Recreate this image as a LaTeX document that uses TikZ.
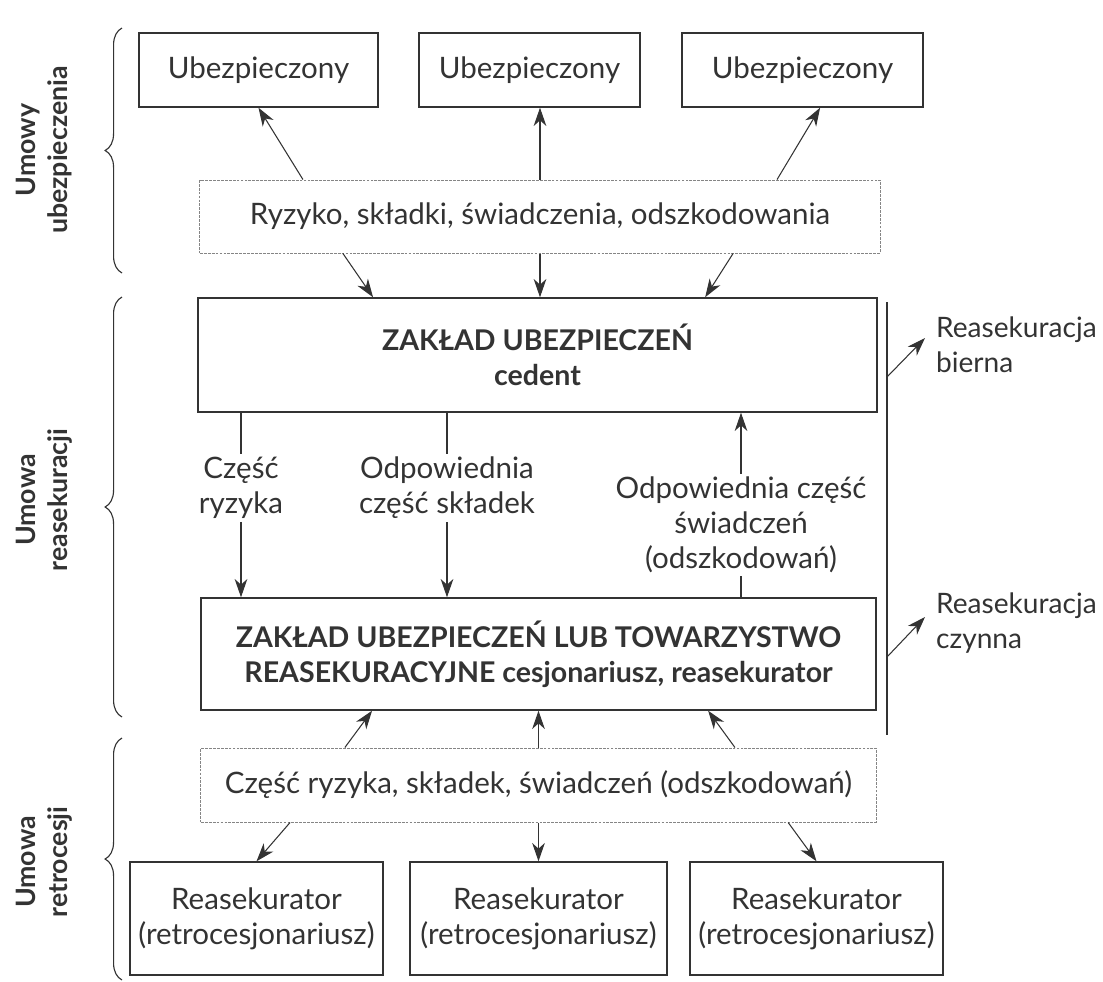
\documentclass[tikz,border=0pt]{standalone}
\usepackage{fontspec}
\setmainfont{Lato}
\usetikzlibrary{arrows.meta,positioning,decorations.pathreplacing}
\definecolor{ink}{HTML}{333333}

\begin{document}
\begin{tikzpicture}[x=0.025cm,y=-0.025cm,text=ink,
    font=\fontsize{21}{25}\selectfont,
    box/.style={draw=ink,line width=1pt,align=center,inner sep=0pt},
    flow/.style={draw=ink!60,dash pattern=on 2pt off 0.8pt,line width=0.7pt,align=center,inner sep=0pt},
    arr/.style={-{Stealth[length=13pt,width=9pt,inset=4pt]},draw=ink,line width=0.75pt},
    lbl/.style={align=center,inner sep=2pt},
    side/.style={align=center,rotate=90,font=\fontsize{19}{23}\selectfont\bfseries},
    brace/.style={decorate,decoration={brace,amplitude=12pt},draw=ink,line width=0.8pt}]
    \useasboundingbox (0,0) rectangle (1103,981);
    % boxes
    \node[box,minimum width=5.975cm,minimum height=1.85cm](u_1) at (258.5,70){Ubezpieczony};
    \node[box,minimum width=5.525cm,minimum height=1.85cm](u_2) at (529.5,70){Ubezpieczony};
    \node[box,minimum width=6.025cm,minimum height=1.85cm](u_3) at (802.5,70){Ubezpieczony};
    \node[flow,minimum width=17cm,minimum height=1.825cm](f_1) at (540,216.5){Ryzyko, składki, świadczenia, odszkodowania};
    \node[box,minimum width=16.975cm,minimum height=2.85cm,font=\fontsize{20.3}{25}\selectfont\bfseries](ced) at (537.5,355){ZAKŁAD UBEZPIECZEŃ\\cedent};
    \node[box,minimum width=16.875cm,minimum height=2.8cm,font=\fontsize{20.3}{25}\selectfont\bfseries](rea) at (538.5,654){ZAKŁAD UBEZPIECZEŃ LUB TOWARZYSTWO\\REASEKURACYJNE cesjonariusz, reasekurator};
    \node[flow,minimum width=16.875cm,minimum height=1.85cm](f_2) at (538.5,785){Część ryzyka, składek, świadczeń (odszkodowań)};
    \node[box,minimum width=6.325cm,minimum height=2.825cm](r_1) at (256.5,918.5){Reasekurator\\(retrocesjonariusz)};
    \node[box,minimum width=6.425cm,minimum height=2.825cm](r_2) at (538.5,918.5){Reasekurator\\(retrocesjonariusz)};
    \node[box,minimum width=6.325cm,minimum height=2.825cm](r_3) at (816.5,918.5){Reasekurator\\(retrocesjonariusz)};
    % labels between cedent and reinsurer
    \node[lbl](l_1) at (241,488){Część\\ryzyka};
    \node[lbl](l_2) at (447,488){Odpowiednia\\część składek};
    \node[lbl](l_3) at (741,525){Odpowiednia część\\świadczeń\\(odszkodowań)};
    \node[lbl,align=left,anchor=west,font=\fontsize{20}{25}\selectfont](bier) at (933,345){Reasekuracja\\bierna};
    \node[lbl,align=left,anchor=west,font=\fontsize{20}{25}\selectfont](czyn) at (933,623){Reasekuracja\\czynna};
    % side labels
    \node[side](s_1) at (44,150){Umowy\\ubezpieczenia};
    \node[side](s_2) at (44,500){Umowa\\reasekuracji};
    \node[side](s_3) at (44,862){Umowa\\retrocesji};
    \draw[brace] (122,273) -- (122,28);
    \draw[brace] (122,717) -- (122,297);
    \draw[brace] (122,980) -- (122,738);
    % side line
    \coordinate (v_1) at (887,302);
    \coordinate (v_2) at (887,735);
    \coordinate (b_0) at (887,377);
    \coordinate (b_1) at (925,338);
    \coordinate (c_0) at (887,657);
    \coordinate (c_1) at (925,617);
    \draw[ink,line width=0.8pt] (v_1) -- (v_2);
    \draw[arr] (b_0) -- (b_1);
    \draw[arr] (c_0) -- (c_1);
    % connectors
    \draw[arr] ([xshift=-5.925cm]f_1.north) -- (u_1.south);
    \draw[arr] (f_1.north) -- (u_2.south -| f_1.north);
    \draw[arr] ([xshift=5.925cm]f_1.north) -- ([xshift=0.44cm]u_3.south);
    \draw[arr] ([xshift=-4.925cm]f_1.south) -- ([xshift=-4.11cm]ced.north);
    \draw[arr] (f_1.south) -- (ced.north -| f_1.south);
    \draw[arr] ([xshift=4.825cm]f_1.south) -- ([xshift=4.19cm]ced.north);
    \draw[ink,line width=0.75pt] (ced.south -| l_1) -- (l_1.north);
    \draw[arr] (l_1.south) -- (rea.north -| l_1);
    \draw[ink,line width=0.75pt] (ced.south -| l_2) -- (l_2.north);
    \draw[arr] (l_2.south) -- (rea.north -| l_2);
    \draw[ink,line width=0.75pt] (rea.north -| l_3) -- (l_3.south);
    \draw[arr] (l_3.north) -- (ced.south -| l_3);
    \draw[arr] ([xshift=-4.84cm]f_2.north) -- ([xshift=-4.16cm]rea.south);
    \draw[arr] (f_2.north) -- (rea.south -| f_2.north);
    \draw[arr] ([xshift=4.91cm]f_2.north) -- ([xshift=4.24cm]rea.south);
    \draw[arr] ([xshift=-6.21cm]f_2.south) -- (r_1.north);
    \draw[arr] (f_2.south) -- (r_2.north);
    \draw[arr] ([xshift=6.24cm]f_2.south) -- (r_3.north);
\end{tikzpicture}
\end{document}
